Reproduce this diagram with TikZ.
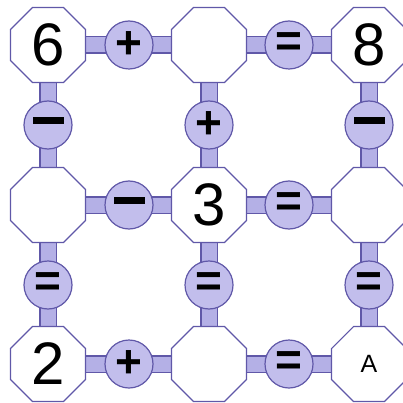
\documentclass[tikz,border=0pt]{standalone}
\usepackage{fontspec}
\setmainfont{Liberation Sans}
\usetikzlibrary{shapes.geometric,backgrounds}
\definecolor{edge}{RGB}{96,88,168}
\definecolor{cfill}{RGB}{194,190,236}
\definecolor{bfill}{RGB}{180,176,230}
\tikzset{
  oct/.style={regular polygon,regular polygon sides=8,minimum size=81pt,inner sep=0pt,outer sep=0pt,draw=edge,line width=1.2pt,fill=white,font=\fontsize{60}{60}\selectfont},
  opc/.style={circle,minimum size=48pt,inner sep=0pt,outer sep=0pt,draw=edge,line width=1.2pt,fill=cfill,font=\bfseries\fontsize{46}{46}\selectfont},
  bar/.style={draw=edge,line width=1.2pt,double=bfill,double distance=15pt},
}
\newcommand{\dminus}{\tikz[baseline=-0.5ex]\fill (-15.5pt,-3.5pt) rectangle (15.5pt,3.5pt);}
\begin{document}
\begin{tikzpicture}[x=1pt,y=-1pt]
\useasboundingbox (0,0) rectangle (402,403);
% octagons
\node[oct] (o11) at (48,45) {6};
\node[oct] (o12) at (209,45) {};
\node[oct] (o13) at (369,45) {8};
\node[oct] (o21) at (48,205) {};
\node[oct] (o22) at (209,205) {3};
\node[oct] (o23) at (369,205) {};
\node[oct] (o31) at (48,364) {2};
\node[oct] (o32) at (209,364) {};
\node[oct,font=\fontsize{25}{25}\selectfont] (o33) at (369,364) {A};
% operator circles (horizontal)
\node[opc] (h11) at (129,45) {+};
\node[opc] (h12) at (289,45) {=};
\node[opc] (h21) at (129,205) {\dminus};
\node[opc] (h22) at (289,205) {=};
\node[opc] (h31) at (129,364) {+};
\node[opc] (h32) at (289,364) {=};
% operator circles (vertical)
\node[opc] (v11) at (48,125) {\dminus};
\node[opc] (v12) at (209,125) {+};
\node[opc] (v13) at (369,125) {\dminus};
\node[opc] (v21) at (48,285) {=};
\node[opc] (v22) at (209,285) {=};
\node[opc] (v23) at (369,285) {=};
\begin{pgfonlayer}{background}
\foreach \r in {1,2,3}{
  \draw[bar] (o\r1.center) -- (o\r2.center);
  \draw[bar] (o\r2.center) -- (o\r3.center);
}
\foreach \c in {1,2,3}{
  \draw[bar] (o1\c.center) -- (o2\c.center);
  \draw[bar] (o2\c.center) -- (o3\c.center);
}
\end{pgfonlayer}
\end{tikzpicture}
\end{document}
